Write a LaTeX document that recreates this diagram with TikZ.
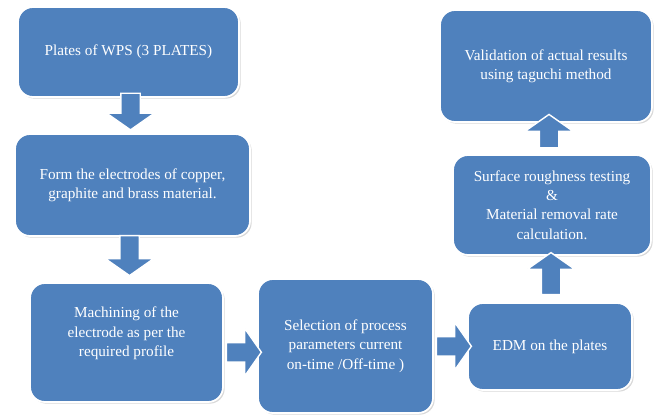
\documentclass[tikz,border=0pt]{standalone}
\usepackage{fontspec}
\setmainfont{Liberation Serif}
\usepackage{tikz}
\usetikzlibrary{shapes.arrows,shadows}

\definecolor{boxblue}{RGB}{79,129,189}

\tikzset{
  stage/.style={draw=white, line width=1.5pt, fill=boxblue, rounded corners=4.5mm,
    text=white, align=center, font=\rmfamily\fontsize{13}{16.5}\selectfont,
    drop shadow={shadow xshift=0.5mm, shadow yshift=-0.5mm, opacity=0.3}},
  blockarrow/.style={single arrow, draw=white, line width=1.2pt, fill=boxblue,
    inner xsep=0pt, inner ysep=2.7mm, single arrow head extend=4.3mm,
    single arrow tip angle=110, text height=0pt, text depth=0pt}
}

\begin{document}
\begin{tikzpicture}[x=0.3mm, y=-0.3mm]
        \useasboundingbox (0,0) rectangle (657,417);

        \node[stage, minimum width=66.3mm, minimum height=27mm] (plates) at (128.5, 52)
          {Plates of WPS (3 PLATES)};
        \node[stage, minimum width=70.5mm, minimum height=30.6mm] (form) at (132.5, 185)
          {Form the electrodes of copper,\\graphite and brass material.};
        \node[stage, minimum width=57.9mm, minimum height=35.7mm] (machining) at (126.5, 342.5)
          {Machining of the\\electrode as per the\\required profile\\[2pt]\mbox{}};
        \node[stage, minimum width=52.5mm, minimum height=40.2mm] (selection) at (345.5, 346)
          {Selection of process\\parameters current\\on-time /Off-time )};
        \node[stage, minimum width=49.2mm, minimum height=26.1mm] (edm) at (550, 346.5)
          {EDM on the plates};
        \node[stage, minimum width=59.4mm, minimum height=30mm] (surface) at (552, 205)
          {Surface roughness testing\\\&\\Material removal rate\\calculation.};
        \node[stage, minimum width=63.6mm, minimum height=33.6mm] (validation) at (546, 66)
          {Validation of actual results\\using taguchi method};

        \path (plates.south) -- node[blockarrow, rotate=-90, minimum height=11mm, xshift=-2.2mm] (a1) {} (form.north);
        \path (form.south) -- node[blockarrow, rotate=-90, minimum height=12mm, xshift=-2.2mm] (a2) {} (machining.north);
        \path (machining.east) -- node[blockarrow, minimum height=10.5mm, yshift=-2.4mm] (a3) {} (selection.west);
        \path (selection.east) -- node[blockarrow, minimum height=10.5mm] (a4) {} (edm.west);
        \path (edm.north) -- node[blockarrow, rotate=90, minimum height=12.6mm, xshift=0.6mm] (a5) {} (surface.south);
        \path (surface.north) -- node[blockarrow, rotate=90, minimum height=10mm, xshift=1.2mm] (a6) {} (validation.south);
\end{tikzpicture}
\end{document}
